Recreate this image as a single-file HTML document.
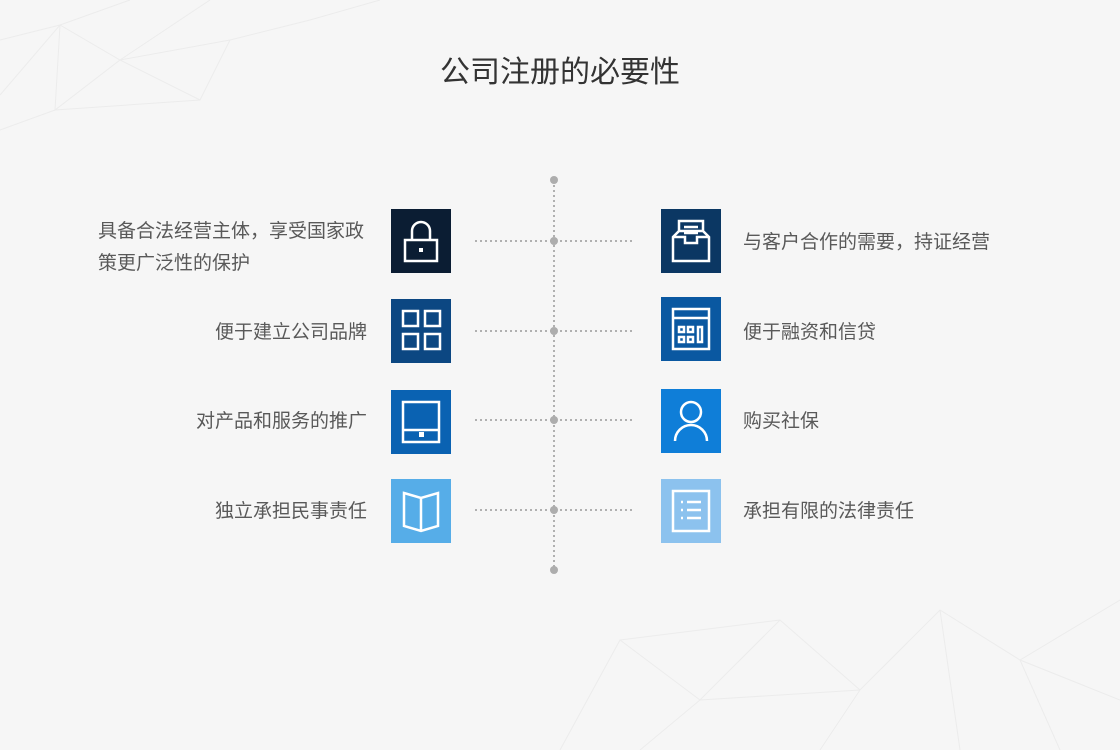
<!DOCTYPE html>
<html><head><meta charset="utf-8"><style>
body{margin:0;width:1120px;height:750px;background:#f6f6f6;position:relative;overflow:hidden;font-family:"Liberation Sans","Noto Sans CJK SC",sans-serif}
.t{position:absolute;font-size:19px;color:#595959;line-height:32px;white-space:nowrap}
.b{position:absolute;width:60px;height:64px}
.b svg{position:absolute;left:0;top:0}
</style></head><body>
<svg width="1120" height="750" style="position:absolute;left:0;top:0">
<g stroke="#ececec" stroke-width="1" fill="none">
<path d="M0 40 L60 25 L130 0 M0 95 L60 25 L120 60 L210 0 M60 25 L55 110 L120 60 L200 100 L230 40 L310 20 L380 0 M0 130 L55 110 L200 100 M120 60 L230 40"/>
<path d="M560 750 L620 640 L700 700 L780 620 L860 690 L940 610 L1020 660 L1120 600 M620 640 L780 620 M700 700 L640 750 M860 690 L820 750 M940 610 L960 750 M1020 660 L1060 750 M1020 660 L1120 700 M700 700 L860 690"/>
</g>
<g stroke="#b0b0b0" stroke-width="2" stroke-dasharray="2 3">
<line x1="554" y1="180" x2="554" y2="570"/>
<line x1="475" y1="241" x2="633" y2="241"/>
<line x1="475" y1="331" x2="633" y2="331"/>
<line x1="475" y1="420" x2="633" y2="420"/>
<line x1="475" y1="510" x2="633" y2="510"/>
</g>
<g fill="#adadad"><circle cx="554" cy="180" r="4"/><circle cx="554" cy="241" r="4"/><circle cx="554" cy="331" r="4"/><circle cx="554" cy="420" r="4"/><circle cx="554" cy="510" r="4"/><circle cx="554" cy="570" r="4"/></g>
</svg>
<div style="position:absolute;left:0;width:1120px;top:47px;text-align:center;font-size:30px;color:#333">公司注册的必要性</div>

<div class="b" style="left:391px;top:209px;background:#0b1d33"><svg width="60" height="64" fill="none" stroke="#fff" stroke-width="2.5"><rect x="14" y="31" width="32" height="21"/><path d="M21 31 V22 a9 9 0 0 1 18 0 V31"/><rect x="28" y="39" width="4" height="4" fill="#fff" stroke="none"/></svg></div>
<div class="b" style="left:391px;top:299px;background:#0c4782"><svg width="60" height="64" fill="none" stroke="#fff" stroke-width="2.5"><rect x="12" y="12" width="15" height="15"/><rect x="34" y="12" width="15" height="15"/><rect x="12" y="35" width="15" height="15"/><rect x="34" y="35" width="15" height="15"/></svg></div>
<div class="b" style="left:391px;top:390px;background:#0a62b2"><svg width="60" height="64" fill="none" stroke="#fff" stroke-width="2.5"><rect x="12" y="12" width="36" height="40"/><line x1="12" y1="40" x2="48" y2="40"/><rect x="28" y="42" width="5" height="5" fill="#fff" stroke="none"/></svg></div>
<div class="b" style="left:391px;top:479px;background:#56ade8"><svg width="60" height="64" fill="none" stroke="#fff" stroke-width="2.5"><path d="M13 14 L30 19 L47 14 V47 L30 52 L13 47 Z M30 19 V52"/></svg></div>

<div class="b" style="left:661px;top:209px;background:#0b3763"><svg width="60" height="64" fill="none" stroke="#fff" stroke-width="2.5"><path d="M18 22 V12 H42 V22 M12 28 L18 22 H42 L48 28 V52 H12 Z M12 28 H24 V34 H36 V28 H48"/><line x1="23" y1="18" x2="37" y2="18"/><line x1="23" y1="24" x2="37" y2="24"/></svg></div>
<div class="b" style="left:661px;top:297px;background:#0a58a1"><svg width="60" height="64" fill="none" stroke="#fff" stroke-width="2.5"><rect x="12" y="12" width="36" height="40"/><line x1="12" y1="21" x2="48" y2="21"/><rect x="18" y="30" width="5" height="5"/><rect x="27" y="30" width="5" height="5"/><rect x="18" y="40" width="5" height="5"/><rect x="27" y="40" width="5" height="5"/><rect x="37" y="30" width="4" height="15"/></svg></div>
<div class="b" style="left:661px;top:389px;background:#0f7ed8"><svg width="60" height="64" fill="none" stroke="#fff" stroke-width="2.5"><circle cx="30" cy="23" r="10"/><path d="M14 52 a16 16 0 0 1 32 0"/></svg></div>
<div class="b" style="left:661px;top:479px;background:#8cc2ee"><svg width="60" height="64" fill="none" stroke="#fff" stroke-width="2.5"><rect x="12" y="12" width="36" height="40"/><line x1="26" y1="23" x2="40" y2="23"/><line x1="26" y1="31" x2="40" y2="31"/><line x1="26" y1="39" x2="40" y2="39"/><line x1="20" y1="23" x2="22" y2="23"/><line x1="20" y1="31" x2="22" y2="31"/><line x1="20" y1="39" x2="22" y2="39"/></svg></div>

<div class="t" style="left:98px;top:216px">具备合法经营主体，享受国家政<br>策更广泛性的保护</div>
<div class="t" style="right:753px;top:317px">便于建立公司品牌</div>
<div class="t" style="right:753px;top:406px">对产品和服务的推广</div>
<div class="t" style="right:753px;top:496px">独立承担民事责任</div>
<div class="t" style="left:743px;top:227px">与客户合作的需要，持证经营</div>
<div class="t" style="left:743px;top:317px">便于融资和信贷</div>
<div class="t" style="left:743px;top:406px">购买社保</div>
<div class="t" style="left:743px;top:496px">承担有限的法律责任</div>
</body></html>
